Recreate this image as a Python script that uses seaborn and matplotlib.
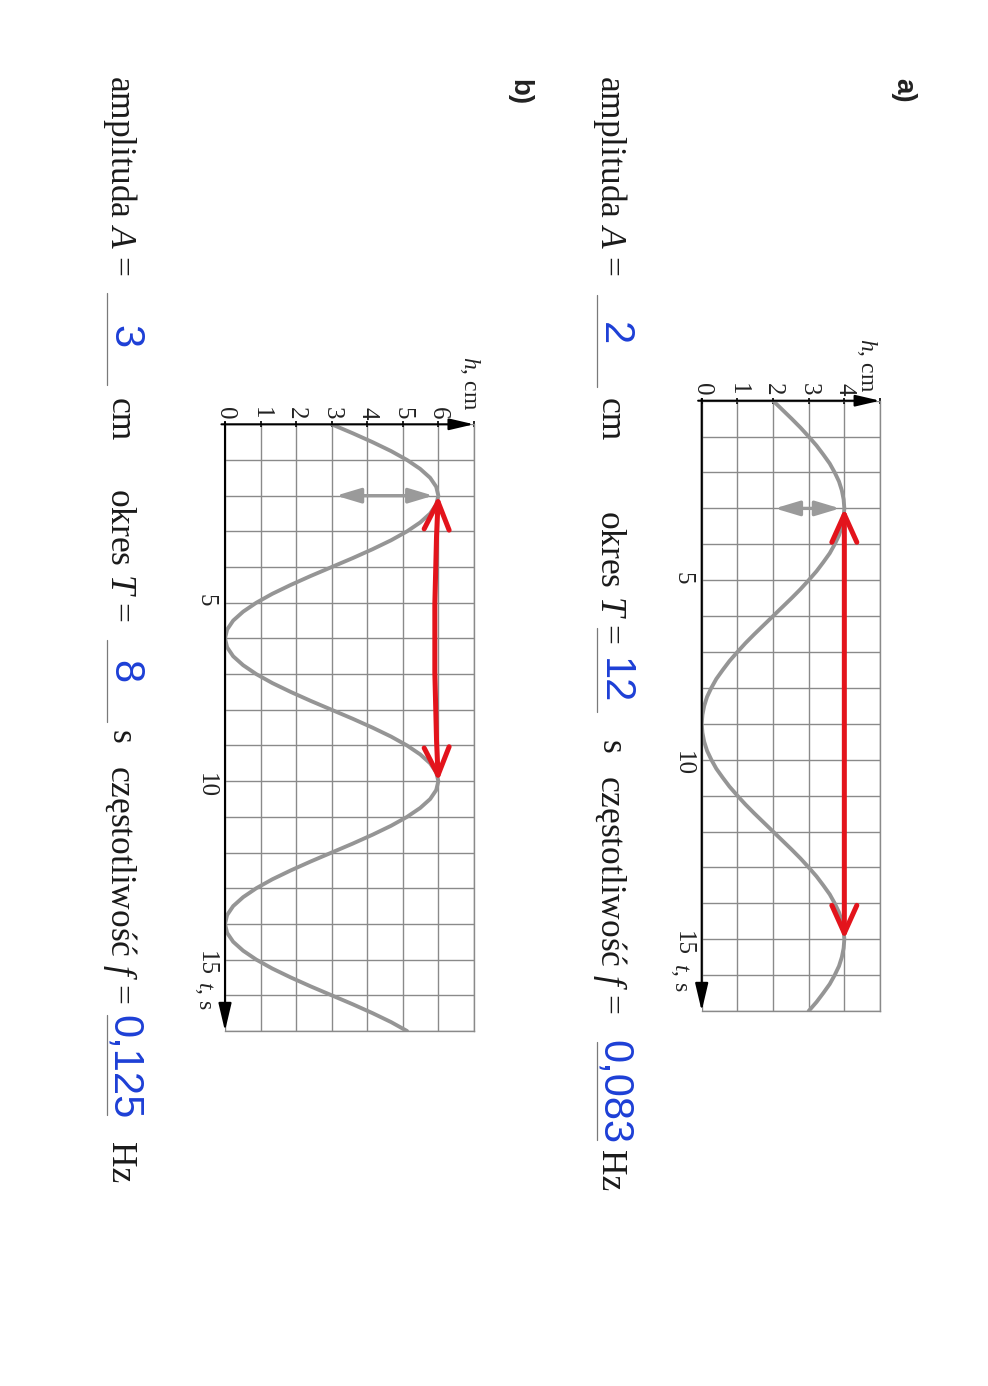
import matplotlib
matplotlib.use('Agg')
import matplotlib.pyplot as plt
import seaborn as sns
from matplotlib.lines import Line2D

# --- data (h in cm against t in s) ---
t_pts = [0, 0.25, 0.5, 0.75, 1, 1.25, 1.5, 1.75, 2, 2.25, 2.5, 2.75,
         3, 3.25, 3.5, 3.75, 4, 4.25, 4.5, 4.75, 5, 5.25, 5.5, 5.75,
         6, 6.25, 6.5, 6.75, 7, 7.25, 7.5, 7.75, 8, 8.25, 8.5, 8.75,
         9, 9.25, 9.5, 9.75, 10, 10.25, 10.5, 10.75, 11, 11.25, 11.5, 11.75,
         12, 12.25, 12.5, 12.75, 13, 13.25, 13.5, 13.75, 14, 14.25, 14.5, 14.75,
         15, 15.25, 15.5, 15.75, 16, 16.25, 16.5, 16.75, 17]
h_a = [2.0, 2.26, 2.52, 2.77, 3.0, 3.22, 3.41, 3.59, 3.73, 3.85, 3.93, 3.98,
       4.0, 3.98, 3.93, 3.85, 3.73, 3.59, 3.41, 3.22, 3.0, 2.77, 2.52, 2.26,
       2.0, 1.74, 1.48, 1.23, 1.0, 0.78, 0.59, 0.41, 0.27, 0.15, 0.07, 0.02,
       0.0, 0.02, 0.07, 0.15, 0.27, 0.41, 0.59, 0.78, 1.0, 1.23, 1.48, 1.74,
       2.0, 2.26, 2.52, 2.77, 3.0, 3.22, 3.41, 3.59, 3.73, 3.85, 3.93, 3.98,
       4.0, 3.98, 3.93, 3.85, 3.73, 3.59, 3.41, 3.22, 3.0]
h_b = [3.0, 3.59, 4.15, 4.67, 5.12, 5.49, 5.77, 5.94, 6.0,
       5.94, 5.77, 5.49, 5.12, 4.67, 4.15, 3.59, 3.0,
       2.41, 1.85, 1.33, 0.88, 0.51, 0.23, 0.06, 0.0,
       0.06, 0.23, 0.51, 0.88, 1.33, 1.85, 2.41, 3.0,
       3.59, 4.15, 4.67, 5.12, 5.49, 5.77, 5.94, 6.0,
       5.94, 5.77, 5.49, 5.12, 4.67, 4.15, 3.59, 3.0,
       2.41, 1.85, 1.33, 0.88, 0.51, 0.23, 0.06, 0.0,
       0.06, 0.23, 0.51, 0.88, 1.33, 1.85, 2.41, 3.0,
       3.59, 4.15, 4.67, 5.12]

h_max_a, h_max_b = 5, 7          # grid extent (cm)
t_max = 17                       # grid extent (s)
h_labels_a = ['0', '1', '2', '3', '4']
h_labels_b = ['0', '1', '2', '3', '4', '5', '6']
t_labels = {5: '5', 10: '10', 15: '15'}

# amplitude arrow (t, h_from, h_to) and period arrow (h, t_from, t_to)
amp_a = (3, 2.05, 3.88)
per_a = (4, 3, 15)
amp_b = (2, 3.12, 5.86)
per_b = (6, 2, 10)

answers_a = ['2', '12', '0,083']
answers_b = ['3', '8', '0,125']

W, H = 988, 1386
GRID = '#8a8a8a'
CURVE = '#959595'
RED = '#e3141c'
BLUE = '#1d3fd6'

sns.set_style('white')
plt.rcParams['font.family'] = ['Liberation Serif', 'DejaVu Serif']
plt.rcParams['mathtext.fontset'] = 'custom'
plt.rcParams['mathtext.it'] = 'Liberation Serif:italic'
plt.rcParams['mathtext.rm'] = 'Liberation Serif'

fig = plt.figure(figsize=(W / 100, H / 100), dpi=100)
fig.patch.set_facecolor('white')


def fpos(x, y):
    return x / W, 1 - y / H


def put(x, y, s, **kw):
    fx, fy = fpos(x, y)
    fig.text(fx, fy, s, rotation=-90, rotation_mode='anchor',
             ha='left', va='baseline', **kw)


def panel(rect, h, hmax, hlabels, amp, per, rad):
    x0, y0, x1, y1 = rect
    ax = fig.add_axes([x0 / W, 1 - y1 / H, (x1 - x0) / W, (y1 - y0) / H])
    sns.lineplot(x=h, y=t_pts, orient='y', estimator=None, color=CURVE,
                 lw=2.8, ax=ax, zorder=3)
    ax.set_xlim(0, hmax)
    ax.set_ylim(t_max, 0)
    ax.set_xticks(range(hmax + 1))
    ax.set_xticklabels(hlabels + [''] * (hmax + 1 - len(hlabels)))
    ax.set_yticks(range(t_max + 1))
    ax.set_yticklabels([t_labels.get(v, '') for v in range(t_max + 1)])
    ax.xaxis.tick_top()
    ax.tick_params(axis='x', direction='inout', length=5, width=1.2, pad=1,
                   labelsize=18, labelrotation=-90, colors='k')
    ax.tick_params(axis='y', direction='inout', length=8, width=1.2, pad=2,
                   labelsize=18, labelrotation=-90, colors='k')
    for lab in ax.get_xticklabels() + ax.get_yticklabels():
        lab.set_color('#222222')
    ax.set_xlabel('')
    ax.set_ylabel('')
    ax.grid(True, color=GRID, lw=1.0)
    for s in ['right', 'bottom']:
        ax.spines[s].set_color(GRID)
        ax.spines[s].set_linewidth(1.0)
    ax.spines['top'].set_visible(False)
    ax.spines['left'].set_visible(False)
    # axes with arrow heads
    ax.annotate('', xy=(hmax, 0), xytext=(-0.1, 0), annotation_clip=False,
                arrowprops=dict(arrowstyle='-|>,head_length=1.5,head_width=0.35',
                                color='k', lw=1.5, shrinkA=0, shrinkB=0), zorder=5)
    ax.annotate('', xy=(0, t_max), xytext=(0, -0.05), annotation_clip=False,
                arrowprops=dict(arrowstyle='-|>,head_length=1.7,head_width=0.4',
                                color='k', lw=1.5, shrinkA=0, shrinkB=0), zorder=5)
    # amplitude arrow (grey)
    ax.annotate('', xy=(amp[2], amp[0]), xytext=(amp[1], amp[0]),
                arrowprops=dict(arrowstyle='<|-|>,head_length=1.5,head_width=0.45',
                                color='#9a9a9a', lw=2.4, shrinkA=0, shrinkB=0), zorder=4)
    # period arrow (red)
    ax.annotate('', xy=(per[0], per[2]), xytext=(per[0], per[1]),
                arrowprops=dict(arrowstyle='<->,head_length=2.0,head_width=0.9',
                                color=RED, lw=3.6, shrinkA=0, shrinkB=0,
                                connectionstyle=f'arc3,rad={rad}'), zorder=6)
    return ax


panel((701.7, 400.7, 880, 1011), h_a, h_max_a, h_labels_a, amp_a, per_a, 0.0)
panel((225, 424.3, 473.9, 1031), h_b, h_max_b, h_labels_b, amp_b, per_b, 0.025)

# axis names
put(861, 338, '$h$, cm', fontsize=17, color='#222222')
put(675, 963, '$t$, s', fontsize=17, color='#222222')
put(464, 356, '$h$, cm', fontsize=17, color='#222222')
put(199, 981, '$t$, s', fontsize=17, color='#222222')

# panel letters
fig.text(*fpos(903, 90), 'a)', rotation=-90, ha='center', va='center',
         fontsize=20, fontweight='bold', family='Liberation Sans', color='#222222')
fig.text(*fpos(519, 92), 'b)', rotation=-90, ha='center', va='center',
         fontsize=20, fontweight='bold', family='Liberation Sans', color='#222222')


def answer_row(xb, ys, answers, lines):
    black = dict(fontsize=25.5, color='#1a1a1a')
    blue = dict(fontsize=30, color=BLUE, family='Liberation Sans')
    put(xb, ys[0], 'amplituda $A$ =', **black)
    put(xb + 2, ys[1], answers[0], **blue)
    put(xb, ys[2], 'cm', **black)
    put(xb, ys[3], 'okres $T$ =', **black)
    put(xb + 2, ys[4], answers[1], **blue)
    put(xb, ys[5], 's', **black)
    put(xb, ys[6], 'częstotliwość $f$ =', **black)
    put(xb + 2, ys[7], answers[2], **blue)
    put(xb, ys[8], 'Hz', **black)
    for (a, b) in lines:
        fig.add_artist(Line2D([(xb - 4) / W] * 2, [1 - a / H, 1 - b / H],
                              color='#7a7a7a', lw=0.9))


answer_row(601, [75, 322, 398, 510, 658, 740, 775, 1040, 1150], answers_a,
           [(295, 387), (628, 712), (1042, 1140)])
answer_row(111, [75, 325, 398, 488, 660, 730, 765, 1015, 1142], answers_b,
           [(293, 385), (640, 722), (1015, 1115)])

fig.savefig('out.png', dpi=100, facecolor='white')
